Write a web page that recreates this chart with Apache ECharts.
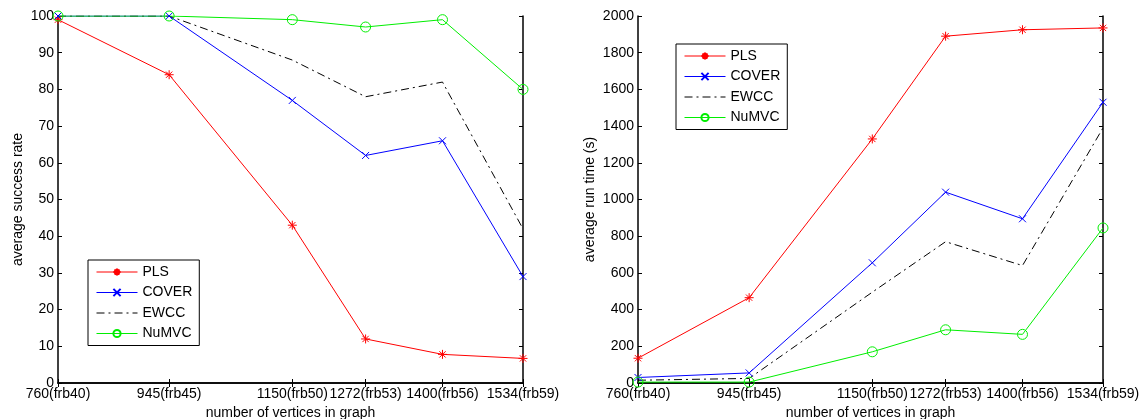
<!DOCTYPE html>
<html>
<head>
<meta charset="utf-8">
<script src="https://cdn.jsdelivr.net/npm/echarts@6/dist/echarts.min.js"></script>
<style>
  html, body { margin: 0; padding: 0; background: #fff; }
  #container { width: 1140px; height: 419px; }
</style>
</head>
<body>
<div id="container"></div>
<script>
// vertices on the x axis and their labels
var vertices = [760, 945, 1150, 1272, 1400, 1534];
var vertexLabels = ['760(frb40)', '945(frb45)', '1150(frb50)', '1272(frb53)', '1400(frb56)', '1534(frb59)'];
var seriesNames = ['PLS', 'COVER', 'EWCC', 'NuMVC'];

// left: average success rate
var rateValues = {
    PLS:   [99, 84, 43, 12, 7.8, 6.7],
    COVER: [100, 100, 77, 62, 66, 29],
    EWCC:  [100, 100, 88, 78, 82, 42],
    NuMVC: [100, 100, 99, 97, 99, 80]
};
// right: average run time (s)
var timeValues = {
    PLS:   [135, 465, 1330, 1890, 1925, 1935],
    COVER: [30, 55, 655, 1040, 895, 1530],
    EWCC:  [15, 25, 495, 770, 640, 1390],
    NuMVC: [5, 5, 170, 290, 265, 845]
};

var star = 'path://M5,0L5,10M0,5L10,5M1.5,1.5L8.5,8.5M8.5,1.5L1.5,8.5';
var cross = 'path://M0,0L10,10M10,0L0,10';

var styles = {
    PLS:   { color: '#ff0000', symbol: star, symbolSize: 9, type: 'solid' },
    COVER: { color: '#0000ff', symbol: cross, symbolSize: 7, type: 'solid' },
    EWCC:  { color: '#000000', symbol: 'none', symbolSize: 0, type: [8, 4, 2, 4] },
    NuMVC: { color: '#00ee00', symbol: 'circle', symbolSize: 10, type: 'solid' }
};

var font = 'Liberation Sans';

function pairs(vals) {
    return vertices.map(function(v, i) { return [v, vals[i]]; });
}

function xAxes(gridIndex) {
    var base = {
        type: 'value', gridIndex: gridIndex, min: 760, max: 1534,
        splitLine: { show: false },
        axisLine: { lineStyle: { color: '#000', width: 1.5 } },
        axisTick: { inside: true, length: 4, customValues: vertices, lineStyle: { color: '#000' } }
    };
    return [
        Object.assign({}, base, {
            position: 'bottom',
            name: 'number of vertices in graph', nameLocation: 'middle', nameGap: 23,
            nameTextStyle: { fontFamily: font, fontSize: 14, color: '#000' },
            axisLabel: {
                customValues: vertices, margin: 4, fontFamily: font, fontSize: 14, color: '#000',
                formatter: function(v) { return vertexLabels[vertices.indexOf(v)]; }
            }
        }),
        Object.assign({}, base, { position: 'top', axisLabel: { show: false } })
    ];
}

function yAxes(gridIndex, max, interval, name, gap) {
    var base = {
        type: 'value', gridIndex: gridIndex, min: 0, max: max, interval: interval,
        splitLine: { show: false },
        axisLine: { show: true, lineStyle: { color: '#000', width: 1.5 } },
        axisTick: { show: true, inside: true, length: 4, lineStyle: { color: '#000' } }
    };
    return [
        Object.assign({}, base, {
            position: 'left', name: name, nameLocation: 'middle', nameGap: gap,
            nameTextStyle: { fontFamily: font, fontSize: 14, color: '#000' },
            axisLabel: {
                margin: 4, fontFamily: font, fontSize: 14, color: '#000',
                formatter: function(v) { return String(v); }
            }
        }),
        Object.assign({}, base, { position: 'right', axisLabel: { show: false } })
    ];
}

function makeSeries(values, gridIndex) {
    return seriesNames.map(function(n) {
        var s = styles[n];
        return {
            name: n, type: 'line', xAxisIndex: gridIndex * 2, yAxisIndex: gridIndex * 2,
            data: pairs(values[n]),
            symbol: s.symbol, symbolSize: s.symbolSize, showSymbol: s.symbol !== 'none',
            animation: false,
            lineStyle: { color: s.color, width: 1, type: s.type },
            itemStyle: { color: n === 'NuMVC' ? 'rgba(0,0,0,0)' : s.color, borderColor: s.color, borderWidth: 1 }
        };
    });
}

function makeLegend(left, top) {
    return {
        data: seriesNames.map(function(n) {
            return n === 'EWCC' ? { name: n, itemStyle: { opacity: 0 } } : { name: n };
        }),
        orient: 'vertical', left: left, top: top,
        backgroundColor: '#fff', borderColor: '#000', borderWidth: 1,
        padding: [5, 7, 5, 8], itemWidth: 41, itemHeight: 9, itemGap: 6.5,
        lineStyle: { width: 1 },
        textStyle: { fontFamily: font, fontSize: 14, color: '#000' },
        selectedMode: false
    };
}

var myChart = echarts.init(document.getElementById('container'));
myChart.setOption({
    animation: false,
    grid: [
        { left: 58, top: 16, width: 465, height: 367, outerBoundsMode: 'none' },
        { left: 638, top: 16, width: 465, height: 367, outerBoundsMode: 'none' }
    ],
    xAxis: xAxes(0).concat(xAxes(1)),
    yAxis: yAxes(0, 100, 10, 'average success rate', 33).concat(yAxes(1, 2000, 200, 'average run time (s)', 41)),
    legend: [makeLegend(88, 260), makeLegend(676, 44)],
    series: makeSeries(rateValues, 0).concat(makeSeries(timeValues, 1))
});
</script>
</body>
</html>
